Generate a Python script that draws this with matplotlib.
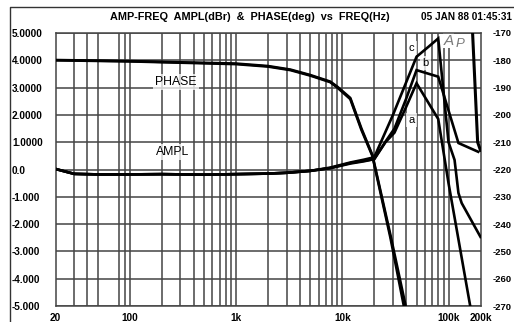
import numpy as np
import matplotlib
matplotlib.use("Agg")
import matplotlib.pyplot as plt
from matplotlib.lines import Line2D

plt.rcParams['font.family'] = ['Liberation Sans', 'DejaVu Sans']

# ---------------- data ----------------
title_text = "AMP-FREQ  AMPL(dBr)  &  PHASE(deg)  vs  FREQ(Hz)"
date_text = "05 JAN 88 01:45:31"

x_tick_vals = [20, 100, 1000, 10000, 100000, 200000]
x_tick_labels = ["20", "100", "1k", "10k", "100k", "200k"]
x_grid_vals = [30, 40, 50, 80, 90,
               200, 300, 400, 500, 600, 700, 800, 900,
               2000, 3000, 4000, 5000, 6000, 7000, 8000, 9000,
               20000, 30000, 40000, 50000, 60000, 70000, 80000, 90000]

amp_ticks = [5, 4, 3, 2, 1, 0, -1, -2, -3, -4, -5]
amp_tick_labels = ["5.0000", "4.0000", "3.0000", "2.0000", "1.0000", "0.0",
                   "-1.000", "-2.000", "-3.000", "-4.000", "-5.000"]
phase_ticks = [-170, -180, -190, -200, -210, -220, -230, -240, -250, -260, -270]
phase_tick_labels = ["-170", "-180", "-190", "-200", "-210", "-220",
                     "-230", "-240", "-250", "-260", "-270"]

# amplitude (dBr)
amp_a_f = [20, 25, 30, 50, 100, 200, 500, 1000, 2000, 3000, 5000, 7700, 12000, 16000,
           20000, 25500, 31000, 40000, 50000, 80000, 100000, 160000, 175000]
amp_a_v = [0.02, -0.08, -0.16, -0.18, -0.18, -0.17, -0.19, -0.17, -0.15, -0.12, -0.05, 0.05, 0.22, 0.3,
           0.38, 1.0, 1.35, 2.3, 3.16, 1.85, -0.5, -5.0, -5.8]
amp_b_f = [20, 25, 30, 50, 100, 200, 500, 1000, 2000, 3000, 5000, 7700, 12000, 16000,
           20000, 25500, 31000, 40000, 50000, 80000, 124000, 190000]
amp_b_v = [0.02, -0.08, -0.16, -0.18, -0.18, -0.17, -0.19, -0.17, -0.15, -0.12, -0.05, 0.05, 0.24, 0.32,
           0.38, 1.02, 1.5, 2.6, 3.64, 3.4, 0.97, 0.65]
amp_c_f = [20, 25, 30, 50, 100, 200, 500, 1000, 2000, 3000, 5000, 7700, 12000, 16000,
           20000, 30000, 40000, 50000, 65000, 80000, 100000, 114000, 124000, 133000, 200000]
amp_c_v = [0.02, -0.08, -0.16, -0.18, -0.18, -0.17, -0.19, -0.17, -0.15, -0.12, -0.05, 0.07, 0.26, 0.36,
           0.45, 2.0, 3.2, 4.13, 4.5, 4.8, 1.0, 0.35, -0.86, -1.23, -2.47]

# phase (deg)
phase1_f = [20, 100, 1000, 2000, 3250, 5000, 7700, 9000, 11900, 15150, 19200, 28400, 39300, 42000]
phase1_v = [-179.9, -180.3, -181.2, -182.1, -183.4, -185.4, -187.8, -189.7, -193.8, -205.0, -214.7, -244.0, -269.6, -278.0]
phase2_f = [20, 100, 1000, 2000, 3250, 5000, 7700, 9000, 11900, 15150, 19200, 28400, 37800, 40000]
phase2_v = [-180.0, -180.4, -181.4, -182.3, -183.6, -185.6, -188.0, -190.0, -194.2, -205.5, -215.0, -245.0, -269.6, -276.0]
phase3_f = [160000, 168500, 178000, 188000, 200000]
phase3_v = [-160.0, -170.0, -190.0, -210.0, -213.0]

# ---------------- figure ----------------
W, H = 514, 322
fig = plt.figure(figsize=(W / 100, H / 100), dpi=100)
fig.patch.set_facecolor('white')

L, R, T, B = 55.5, 480.5, 33, 306
ax = fig.add_axes([L / W, (H - B) / H, (R - L) / W, (B - T) / H])
ax.set_xscale('log')
ax.set_xlim(20, 200000)
ax.set_ylim(-5, 5)

grid_c = '#444444'
for gx in x_grid_vals + [100, 1000, 10000, 100000]:
    ax.axvline(gx, color=grid_c, lw=1.1, zorder=1)
for gy in amp_ticks:
    ax.axhline(gy, color=grid_c, lw=1.1, zorder=1)

ax.set_xticks(x_tick_vals)
ax.set_xticklabels(x_tick_labels)
ax.minorticks_off()
ax.set_yticks(amp_ticks)
ax.set_yticklabels(amp_tick_labels)
ax.tick_params(axis='both', length=0, labelsize=7.2)
ax.tick_params(axis='x', pad=5)
ax.tick_params(axis='y', pad=(L - 12) * 72 / 100)
for lab in ax.get_xticklabels() + ax.get_yticklabels():
    lab.set_fontweight('bold')
for lab in ax.get_yticklabels():
    lab.set_horizontalalignment('left')
for sp in ax.spines.values():
    sp.set_color(grid_c)
    sp.set_linewidth(1.1)

ax2 = ax.twinx()
ax2.set_ylim(-270, -170)
ax2.set_yticks(phase_ticks)
ax2.set_yticklabels(phase_tick_labels)
ax2.tick_params(axis='y', length=0, labelsize=6.8, pad=9)
for lab in ax2.get_yticklabels():
    lab.set_fontweight('bold')
for sp in ax2.spines.values():
    sp.set_visible(False)

# logo / labels drawn on the lower axes so the curves stay on top
ax.text(100000, 4.72, "A", fontsize=11, style='italic', color='#7a7a7a', ha='center', va='center', zorder=2,
        bbox=dict(facecolor='white', edgecolor='none', pad=0.5))
ax.text(128000, 4.58, "P", fontsize=9.5, style='italic', color='#7a7a7a', ha='center', va='center', zorder=2,
        bbox=dict(facecolor='white', edgecolor='none', pad=0.5))

lw = 1.9
ax.plot(amp_a_f, amp_a_v, color='black', lw=lw, zorder=3, solid_joinstyle='miter')
ax.plot(amp_b_f, amp_b_v, color='black', lw=lw, zorder=3, solid_joinstyle='miter')
ax.plot(amp_c_f, amp_c_v, color='black', lw=lw, zorder=3, solid_joinstyle='miter')
ax2.plot(phase1_f, phase1_v, color='black', lw=lw, zorder=3)
ax2.plot(phase2_f, phase2_v, color='black', lw=lw, zorder=3)
ax2.plot(phase3_f, phase3_v, color='black', lw=2.2, zorder=3)

bb = dict(facecolor='white', edgecolor='none', alpha=0.75, pad=1.5)
ax.text(273, 3.2, "PHASE", fontsize=8.8, ha='center', va='center', zorder=4, bbox=bb)
ax.text(253, 0.64, "AMPL", fontsize=8.8, ha='center', va='center', zorder=4, bbox=bb)
ax.text(45000, 4.45, "c", fontsize=8, ha='center', va='center', zorder=4, bbox=bb)
ax.text(61000, 3.9, "b", fontsize=8, ha='center', va='center', zorder=4, bbox=bb)
ax.text(45000, 1.8, "a", fontsize=8, ha='center', va='center', zorder=4, bbox=bb)

fig.text(110 / W, 1 - 17 / H, title_text, fontsize=7.8, fontweight='bold', ha='left', va='center')
fig.text(421 / W, 1 - 17 / H, date_text, fontsize=7.2, fontweight='bold', ha='left', va='center')

fig.add_artist(Line2D([10 / W, 10 / W, 1.0], [0.0, 1 - 7 / H, 1 - 7 / H],
                      transform=fig.transFigure, color='#333333', lw=1.0))

fig.savefig("out.png", dpi=100)
